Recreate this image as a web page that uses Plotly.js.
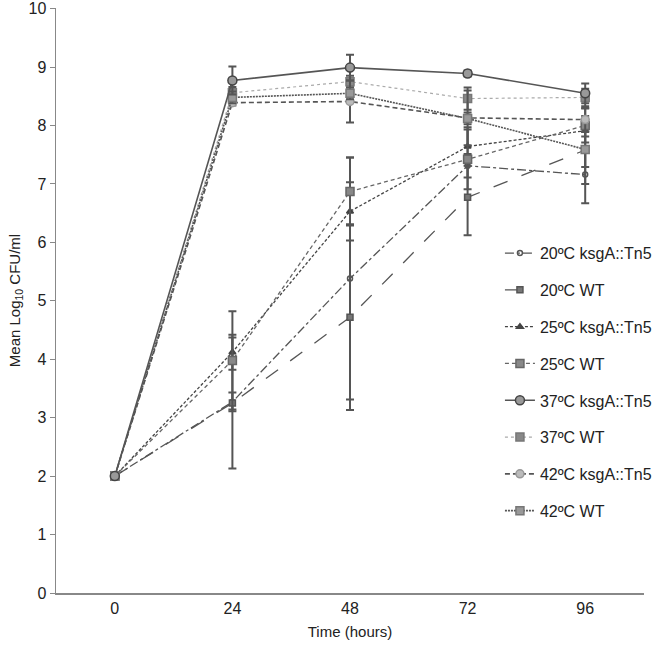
<!DOCTYPE html>
<html>
<head>
<meta charset="utf-8">
<script src="https://cdn.plot.ly/plotly-3.0.1.min.js"></script>
<style>html,body{margin:0;padding:0;background:#fff;}#chart{width:666px;height:650px;}</style>
</head>
<body>
<div id="chart"></div>
<script>
var times = [0, 24, 48, 72, 96];
var tickLabels = ["0", "24", "48", "72", "96"];
var yTicks = [0, 1, 2, 3, 4, 5, 6, 7, 8, 9, 10];
var yTickLabels = ["0", "1", "2", "3", "4", "5", "6", "7", "8", "9", "10"];
var seriesNames = ["20ºC ksgA::Tn5", "20ºC WT", "25ºC ksgA::Tn5", "25ºC WT",
                   "37ºC ksgA::Tn5", "37ºC WT", "42ºC ksgA::Tn5", "42ºC WT"];

var k20 = [2, 3.27, 5.38, 7.31, 7.16];
var k20Err = [0, 0.16, 2.07, 0.20, 0.49];
var w20 = [2, 3.25, 4.72, 6.77, 7.58];
var w20Err = [0, 1.12, 1.59, 0.65, 0.58];
var k25 = [2, 4.12, 6.53, 7.64, 7.91];
var k25Err = [0, 0.30, 0.50, 0.33, 0.10];
var w25 = [2, 3.98, 6.87, 7.42, 8.00];
var w25Err = [0, 0.84, 0.58, 0.51, 0.29];
var k37 = [2, 8.77, 8.99, 8.89, 8.55];
var k37Err = [0, 0.24, 0.22, 0.05, 0.17];
var w37 = [2, 8.56, 8.75, 8.46, 8.48];
var w37Err = [0, 0.10, 0.10, 0.19, 0.15];
var k42 = [2, 8.39, 8.41, 8.13, 8.10];
var k42Err = [0, 0.05, 0.36, 0.47, 0.20];
var w42 = [2, 8.48, 8.55, 8.12, 7.59];
var w42Err = [0, 0.10, 0.10, 0.10, 0.30];

var values = [k20, w20, k25, w25, k37, w37, k42, w42];
var errors = [k20Err, w20Err, k25Err, w25Err, k37Err, w37Err, k42Err, w42Err];

var styles = [
  {dash: "dashdot", lc: "#555", w: 1.3, sym: "circle-open", ms: 5, mc: "#555", ml: "#555"},
  {dash: "longdash", lc: "#555", w: 1.3, sym: "square", ms: 6, mc: "#777", ml: "#555"},
  {dash: "3px,2px", lc: "#444", w: 1.3, sym: "triangle-up", ms: 6, mc: "#444", ml: "#444"},
  {dash: "4px,3px", lc: "#666", w: 1.3, sym: "square", ms: 8, mc: "#888", ml: "#666"},
  {dash: "solid", lc: "#555", w: 1.6, sym: "circle", ms: 9, mc: "#999", ml: "#444"},
  {dash: "dot", lc: "#aaa", w: 1.2, sym: "square", ms: 8, mc: "#888", ml: "#777"},
  {dash: "5px,3px", lc: "#555", w: 1.6, sym: "circle", ms: 8, mc: "#bbb", ml: "#999"},
  {dash: "2px,1px", lc: "#555", w: 1.6, sym: "square", ms: 8, mc: "#999", ml: "#777"}
];

var order = [0, 1, 2, 3, 5, 6, 7, 4];
var traces = [];
order.forEach(function (i) {
  var s = styles[i];
  traces.push({
    x: times, y: values[i], name: seriesNames[i], type: "scatter", mode: "lines+markers",
    legendrank: i + 1, legendgroup: "g" + i,
    line: {color: s.lc, width: s.w, dash: s.dash},
    marker: {symbol: s.sym, size: s.ms, color: s.mc, line: {color: s.ml, width: 1.5}},
    error_y: {type: "data", array: errors[i], visible: true, color: "#555", thickness: 2, width: 4}
  });
});

var layout = {
  width: 666, height: 650,
  margin: {l: 56, r: 22, t: 8, b: 57},
  paper_bgcolor: "#fff", plot_bgcolor: "#fff",
  font: {family: "Liberation Sans, Arial, sans-serif", color: "#222", size: 16},
  showlegend: true,
  legend: {x: 0.755, y: 0.61, xanchor: "left", yanchor: "top", font: {size: 16, color: "#222"},
           bgcolor: "rgba(255,255,255,0)", tracegroupgap: 13, itemwidth: 30},
  xaxis: {range: [-12, 108], tickmode: "array", tickvals: times, ticktext: tickLabels, showline: true,
          linecolor: "#888", linewidth: 1.5, ticks: "", showgrid: false, zeroline: false,
          tickfont: {size: 16}, title: {text: "Time (hours)", font: {size: 15}, standoff: 11}},
  yaxis: {range: [0, 10.01], tickmode: "array", tickvals: yTicks, ticktext: yTickLabels,
          showline: true, linecolor: "#888", linewidth: 1.5,
          ticks: "outside", ticklen: 5, tickcolor: "#888", showgrid: false, zeroline: false,
          tickfont: {size: 16}, automargin: false,
          title: {text: "Mean Log<sub>10</sub> CFU/ml", font: {size: 15}, standoff: 4}}
};

Plotly.newPlot("chart", traces, layout, {displayModeBar: false, staticPlot: true});
</script>
</body>
</html>
